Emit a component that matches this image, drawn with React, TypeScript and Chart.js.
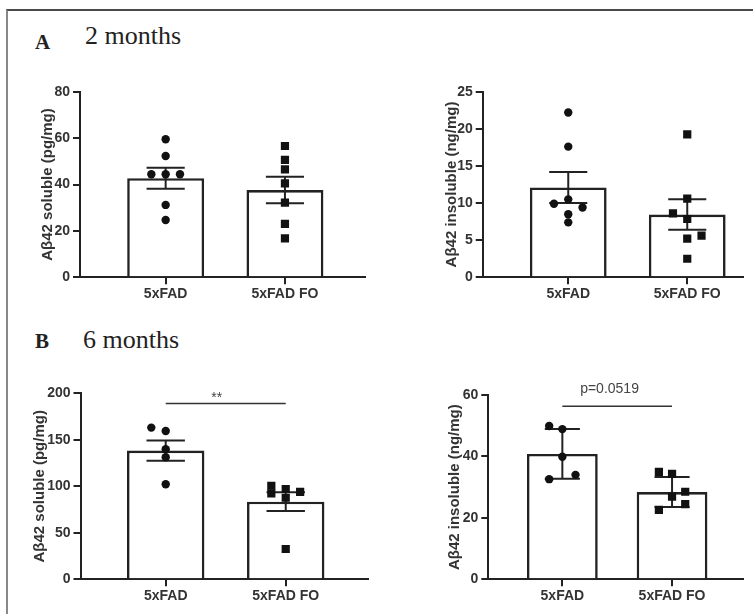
import React, { useEffect, useRef } from "react";
import { Chart, registerables } from "chart.js";

Chart.register(...registerables);

// ---------- data ----------
const categories = ["5xFAD", "5xFAD FO"];

// A, 2 months, soluble (pg/mg)
const a2mSolubleFad = [59.5, 52.3, 44.4, 44.4, 44.4, 31.2, 24.7];
const a2mSolubleFadJitter = [0, 0, -1, 0, 1, 0, 0];
const a2mSolubleFo = [56.6, 50.6, 46.5, 40.5, 32.2, 23.0, 16.8];
const a2mSolubleFoJitter = [0, 0, 0, 0, 0, 0, 0];
const a2mSolubleMean = [42.7, 37.6];
const a2mSolubleErr = [4.5, 5.7];

// A, 2 months, insoluble (ng/mg)
const a2mInsolFad = [22.2, 17.6, 10.5, 9.9, 9.4, 8.5, 7.4];
const a2mInsolFadJitter = [0, 0, 0, -1, 1, 0, 0];
const a2mInsolFo = [19.25, 10.6, 8.6, 7.85, 5.6, 5.2, 2.5];
const a2mInsolFoJitter = [0, 0, -1, 0, 1, 0, 0];
const a2mInsolMean = [12.1, 8.45];
const a2mInsolErr = [2.1, 2.05];

// B, 6 months, soluble (pg/mg)
const b6mSolubleFad = [163.1, 159.5, 139.8, 131.2, 102.2];
const b6mSolubleFadJitter = [-1, 0, 0, 0, 0];
const b6mSolubleFo = [100.6, 92.5, 97.1, 87.7, 93.9, 32.6];
const b6mSolubleFoJitter = [-1, -1, 0, 0, 1, 0];
const b6mSolubleMean = [138.4, 83.5];
const b6mSolubleErr = [10.8, 10.0];
const b6mSolubleSigY = 188.9;
const b6mSolubleSigLabel = "**";

// B, 6 months, insoluble (ng/mg)
const b6mInsolFad = [49.9, 48.9, 39.9, 32.6, 34.0];
const b6mInsolFadJitter = [-1, 0, 0, -1, 1];
const b6mInsolFo = [35.0, 34.3, 26.9, 28.5, 24.5, 22.6];
const b6mInsolFoJitter = [-1, 0, 0, 1, 1, -1];
const b6mInsolMean = [40.8, 28.4];
const b6mInsolErr = [8.1, 4.9];
const b6mInsolSigY = 56.3;
const b6mInsolSigLabel = "p=0.0519";

// ---------- styles ----------
const SANS = "'Liberation Sans', Arial, Helvetica, sans-serif";
const SERIF = "'Liberation Serif', 'Times New Roman', serif";
const INK = "#222";
const TEXT = "#333";
const JIT = 0.12;
const CAP = 0.16;

type Sig = { y: number; label: string; labelX: number; font: string; gap: number };
type Spec = {
  box: { left: number; top: number; width: number; height: number };
  pad: { left: number; right: number; top: number };
  yWidth: number;
  xHeight: number;
  xMin: number;
  xMax: number;
  yMax: number;
  yStep: number;
  yTitle: string;
  fad: number[];
  fadJit: number[];
  fo: number[];
  foJit: number[];
  means: number[];
  errs: number[];
  sig?: Sig;
};

const specs: Spec[] = [
  {
    box: { left: 10, top: 60, width: 370, height: 255 },
    pad: { left: 29, right: 15, top: 31.7 },
    yWidth: 41,
    xHeight: 37.7,
    xMin: -0.718,
    xMax: 1.671,
    yMax: 80,
    yStep: 20,
    yTitle: "Aβ42 soluble (pg/mg)",
    fad: a2mSolubleFad,
    fadJit: a2mSolubleFadJitter,
    fo: a2mSolubleFo,
    foJit: a2mSolubleFoJitter,
    means: a2mSolubleMean,
    errs: a2mSolubleErr,
  },
  {
    box: { left: 390, top: 60, width: 363, height: 255 },
    pad: { left: 52.7, right: 10.3, top: 31.7 },
    yWidth: 40,
    xHeight: 37.7,
    xMin: -0.719,
    xMax: 1.466,
    yMax: 25,
    yStep: 5,
    yTitle: "Aβ42 insoluble (ng/mg)",
    fad: a2mInsolFad,
    fadJit: a2mInsolFadJitter,
    fo: a2mInsolFo,
    foJit: a2mInsolFoJitter,
    means: a2mInsolMean,
    errs: a2mInsolErr,
  },
  {
    box: { left: 10, top: 360, width: 370, height: 254 },
    pad: { left: 21, right: 11.7, top: 33.3 },
    yWidth: 49.5,
    xHeight: 34.7,
    xMin: -0.71,
    xMax: 1.688,
    yMax: 200,
    yStep: 50,
    yTitle: "Aβ42 soluble (pg/mg)",
    fad: b6mSolubleFad,
    fadJit: b6mSolubleFadJitter,
    fo: b6mSolubleFo,
    foJit: b6mSolubleFoJitter,
    means: b6mSolubleMean,
    errs: b6mSolubleErr,
    sig: { y: b6mSolubleSigY, label: b6mSolubleSigLabel, labelX: 0.425, font: `14px ${SANS}`, gap: 2 },
  },
  {
    box: { left: 390, top: 360, width: 363, height: 254 },
    pad: { left: 56, right: 10.3, top: 35 },
    yWidth: 42.3,
    xHeight: 34.7,
    xMin: -0.675,
    xMax: 1.644,
    yMax: 60,
    yStep: 20,
    yTitle: "Aβ42 insoluble (ng/mg)",
    fad: b6mInsolFad,
    fadJit: b6mInsolFadJitter,
    fo: b6mInsolFo,
    foJit: b6mInsolFoJitter,
    means: b6mInsolMean,
    errs: b6mInsolErr,
    sig: { y: b6mInsolSigY, label: b6mInsolSigLabel, labelX: 0.43, font: `14px ${SANS}`, gap: 13 },
  },
];

function Panel({ spec }: { spec: Spec }) {
  const ref = useRef<HTMLCanvasElement | null>(null);
  useEffect(() => {
    if (!ref.current) return;
    const errData: { x: number; y: number | null }[] = [];
    spec.means.forEach((m, i) => {
      const hi = m + spec.errs[i];
      const lo = m - spec.errs[i];
      errData.push(
        { x: i - CAP, y: hi },
        { x: i + CAP, y: hi },
        { x: i, y: null },
        { x: i, y: hi },
        { x: i, y: lo },
        { x: i, y: null },
        { x: i - CAP, y: lo },
        { x: i + CAP, y: lo },
        { x: i, y: null }
      );
    });
    const datasets: any[] = [
      {
        type: "bar",
        data: spec.means.map((m, i) => ({ x: i, y: m })),
        backgroundColor: "#ffffff",
        borderColor: INK,
        borderWidth: 2.6,
        barPercentage: 0.645,
        categoryPercentage: 1,
        order: 5,
      },
      {
        type: "line",
        data: errData,
        borderColor: INK,
        borderWidth: 2,
        pointRadius: 0,
        spanGaps: false,
        fill: false,
        order: 3,
      },
      {
        type: "scatter",
        data: spec.fad.map((v, i) => ({ x: 0 + spec.fadJit[i] * JIT, y: v })),
        pointStyle: "circle",
        pointRadius: 4.2,
        backgroundColor: "#111",
        borderWidth: 0,
        order: 1,
      },
      {
        type: "scatter",
        data: spec.fo.map((v, i) => ({ x: 1 + spec.foJit[i] * JIT, y: v })),
        pointStyle: "rect",
        pointRadius: 5.8,
        backgroundColor: "#111",
        borderWidth: 0,
        order: 1,
      },
    ];
    if (spec.sig) {
      datasets.push({
        type: "line",
        data: [
          { x: 0, y: spec.sig.y },
          { x: 1, y: spec.sig.y },
        ],
        borderColor: "#333",
        borderWidth: 1.5,
        pointRadius: 0,
        fill: false,
        order: 3,
      });
    }
    const sig = spec.sig;
    const sigPlugin = {
      id: "sigLabel",
      afterDatasetsDraw(chart: any) {
        if (!sig) return;
        const { ctx } = chart;
        const x = chart.scales.x.getPixelForValue(sig.labelX);
        const y = chart.scales.y.getPixelForValue(sig.y) - sig.gap;
        ctx.save();
        ctx.font = sig.font;
        ctx.fillStyle = "#444";
        ctx.textAlign = "center";
        ctx.textBaseline = "alphabetic";
        ctx.fillText(sig.label, x, y);
        ctx.restore();
      },
    };
    const gridOpts = {
      drawOnChartArea: false,
      drawTicks: true,
      tickLength: 7,
      color: INK,
      lineWidth: 2,
      offset: false,
    };
    const chart = new Chart(ref.current, {
      type: "bar",
      data: { datasets },
      plugins: [sigPlugin],
      options: {
        animation: false,
        responsive: false,
        devicePixelRatio: 1,
        layout: { padding: { left: spec.pad.left, right: spec.pad.right, top: spec.pad.top, bottom: 0 } },
        plugins: { legend: { display: false }, tooltip: { enabled: false } },
        scales: {
          x: {
            type: "linear",
            min: spec.xMin,
            max: spec.xMax,
            offset: false,
            afterBuildTicks: (s: any) => {
              s.ticks = categories.map((_, i) => ({ value: i }));
            },
            afterFit: (s: any) => {
              s.height = spec.xHeight;
            },
            ticks: {
              callback: (v: any) => categories[Math.round(Number(v))] ?? "",
              font: { family: SANS, size: 14, weight: "bold" },
              color: TEXT,
              padding: 1,
              autoSkip: false,
              maxRotation: 0,
            },
            grid: gridOpts,
            border: { display: true, color: INK, width: 2 },
          },
          y: {
            type: "linear",
            min: 0,
            max: spec.yMax,
            afterFit: (s: any) => {
              s.width = spec.yWidth;
            },
            ticks: {
              stepSize: spec.yStep,
              font: { family: SANS, size: 14, weight: "bold" },
              color: TEXT,
              padding: 3,
            },
            grid: gridOpts,
            border: { display: true, color: INK, width: 2 },
            title: {
              display: true,
              text: spec.yTitle,
              font: { family: SANS, size: 15, weight: "bold" },
              color: TEXT,
              padding: 0,
            },
          },
        },
      } as any,
    });
    return () => chart.destroy();
  }, [spec]);
  const b = spec.box;
  return (
    <canvas
      ref={ref}
      width={b.width}
      height={b.height}
      style={{ position: "absolute", left: b.left, top: b.top, width: b.width, height: b.height }}
    />
  );
}

export default function App() {
  return (
    <div
      style={{
        position: "absolute",
        left: 0,
        top: 0,
        width: 753,
        height: 614,
        overflow: "hidden",
        background: "#fff",
      }}
    >
      <div
        style={{
          position: "absolute",
          left: 6,
          top: 9,
          width: 760,
          height: 620,
          borderTop: "2px solid #4a4a4a",
          borderLeft: "2px solid #888",
        }}
      />
      <div style={{ position: "absolute", left: 35, top: 32.4, fontFamily: SERIF, fontSize: 21, fontWeight: "bold", lineHeight: "21px", color: "#222" }}>A</div>
      <div style={{ position: "absolute", left: 85, top: 22.5, fontFamily: SERIF, fontSize: 26, lineHeight: "26px", color: "#222" }}>2 months</div>
      <div style={{ position: "absolute", left: 35, top: 331, fontFamily: SERIF, fontSize: 21, fontWeight: "bold", lineHeight: "21px", color: "#222" }}>B</div>
      <div style={{ position: "absolute", left: 83, top: 327, fontFamily: SERIF, fontSize: 26, lineHeight: "26px", color: "#222" }}>6 months</div>
      {specs.map((s, i) => (
        <Panel key={i} spec={s} />
      ))}
    </div>
  );
}
